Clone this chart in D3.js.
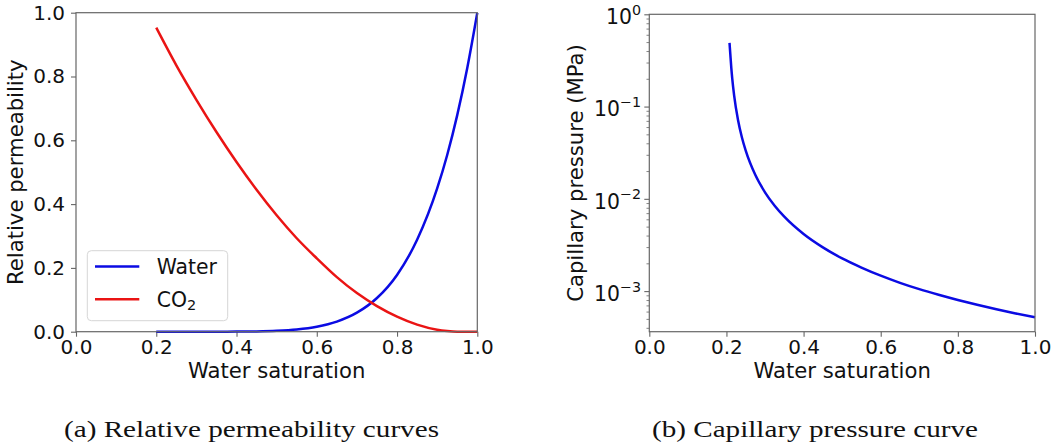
<!DOCTYPE html>
<html><head><meta charset="utf-8">
<script src="https://cdn.jsdelivr.net/npm/d3@7"></script>
<style>
body{margin:0;background:#fff}
svg text{font-family:"DejaVu Sans",sans-serif;fill:#111}
</style>
</head><body>
<svg id="c" width="1053" height="445"></svg>
<script>
// ---- data ----
const swKr = [0.20,0.25,0.30,0.35,0.40,0.45,0.50,0.55,0.60,0.65,0.70,0.75,0.80,0.85,0.90,0.925,0.95,0.975,1.00];
const krWater = [0,0,0,0.00004,0.00024,0.0009,0.0028,0.0070,0.0156,0.0317,0.0596,0.1056,0.178,0.288,0.449,0.554,0.679,0.827,1.0];
const krCO2 = [0.953,0.835,0.727,0.626,0.532,0.445,0.365,0.293,0.230,0.171,0.121,0.080,0.047,0.022,0.006,0.002,0,0,0];
const swPc = [0.208,0.21,0.2125,0.215,0.22,0.23,0.24,0.25,0.275,0.30,0.325,0.35,0.40,0.45,0.50,0.55,0.60,0.65,0.70,0.75,0.80,0.85,0.90,0.95,1.00];
const pc = [0.49,0.372,0.266,0.2025,0.1316,0.0716,0.0465,0.0333,0.0181,0.01177,0.00842,0.00641,0.00416,0.00298,0.00226,0.00180,0.00147,0.00123,0.00105,0.000912,0.000801,0.000710,0.000635,0.000573,0.00052];
const xTicks = [0,0.2,0.4,0.6,0.8,1.0];
const yTicksKr = [0,0.2,0.4,0.6,0.8,1.0];
const yTicksPc = [1,0.1,0.01,0.001];
const yTickExp = ["0","\u22121","\u22122","\u22123"];
const legendLabels = ["Water","CO"];
const seriesColors = ["#0b0be3","#ea1414"];
const xLabel = "Water saturation";
const yLabelKr = "Relative permeability";
const yLabelPc = "Capillary pressure (MPa)";
const captions = ["(a) Relative permeability curves","(b) Capillary pressure curve"];

const svg = d3.select("#c");
const spine = "#666";
const fmt = d3.format(".1f");
const titleSize = 21.2;

function styleAxis(g){
  g.select(".domain").remove();
  g.selectAll(".tick line").attr("stroke",spine).attr("stroke-width",1.1);
  g.selectAll(".tick text").attr("font-size",20).attr("fill","#111");
}
function frame(x,y){
  const [x0,x1]=x.range(), [y0,y1]=y.range();
  svg.append("rect").attr("x",x0).attr("y",y1).attr("width",x1-x0).attr("height",y0-y1)
    .attr("fill","none").attr("stroke",spine).attr("stroke-width",1.2);
}

// ---- panel (a) ----
const xa = d3.scaleLinear([0,1],[76,477.3]);
const ya = d3.scaleLinear([0,1],[331.7,12.7]);
svg.append("g").attr("transform",`translate(0,${ya.range()[0]})`)
  .call(d3.axisBottom(xa).tickValues(xTicks).tickFormat(fmt).tickSize(5).tickPadding(3.5)).call(styleAxis);
svg.append("g").attr("transform",`translate(${xa.range()[0]},0)`)
  .call(d3.axisLeft(ya).tickValues(yTicksKr).tickFormat(fmt).tickSize(5).tickPadding(6)).call(styleAxis);

const lineA = d3.line().curve(d3.curveMonotoneX);
svg.append("path").attr("d",lineA(swKr.map((s,i)=>[xa(s),ya(krWater[i])])))
  .attr("fill","none").attr("stroke",seriesColors[0]).attr("stroke-width",2.5);
svg.append("path").attr("d",lineA(swKr.map((s,i)=>[xa(s),ya(krCO2[i])])))
  .attr("fill","none").attr("stroke",seriesColors[1]).attr("stroke-width",2.5);
frame(xa,ya);

svg.append("text").attr("x",(xa.range()[0]+xa.range()[1])/2).attr("y",377.5)
  .attr("text-anchor","middle").attr("font-size",titleSize).text(xLabel);
svg.append("text").attr("transform",`translate(23,${(ya.range()[0]+ya.range()[1])/2}) rotate(-90)`)
  .attr("text-anchor","middle").attr("font-size",titleSize).text(yLabelKr);

// legend
const lg = svg.append("g");
lg.append("rect").attr("x",87.3).attr("y",250.7).attr("width",140.4).attr("height",70).attr("rx",4)
  .attr("fill","#fff").attr("stroke","#d6d6d6").attr("stroke-width",1);
[266.5,299.3].forEach((yy,i)=>{
  lg.append("line").attr("x1",95).attr("x2",139.3).attr("y1",yy).attr("y2",yy)
    .attr("stroke",seriesColors[i]).attr("stroke-width",2.5);
});
lg.append("text").attr("x",156.7).attr("y",274).attr("font-size",20.4).text(legendLabels[0]);
const co = lg.append("text").attr("x",156.7).attr("y",306.5).attr("font-size",20.4);
co.append("tspan").text(legendLabels[1]);
co.append("tspan").attr("font-size",14.5).attr("dy",3.5).text("2");

// ---- panel (b) ----
const xb = d3.scaleLinear([0,1],[649.3,1035]);
const yb = d3.scaleLog([Math.pow(10,-3.44),1],[331.7,14.3]);
svg.append("g").attr("transform",`translate(0,${yb.range()[0]})`)
  .call(d3.axisBottom(xb).tickValues(xTicks).tickFormat(fmt).tickSize(5).tickPadding(3.5)).call(styleAxis);
const minor = [];
[-4,-3,-2,-1].forEach(e=>{for(let m=2;m<=9;m++){const v=m*Math.pow(10,e); if(v>=yb.domain()[0]&&v<=1) minor.push(v);}});
svg.append("g").attr("transform",`translate(${xb.range()[0]},0)`)
  .call(d3.axisLeft(yb).tickValues(minor).tickFormat("").tickSize(2.8)).call(styleAxis)
  .selectAll(".tick line").attr("stroke-width",0.8);
const gyb = svg.append("g").attr("transform",`translate(${xb.range()[0]},0)`)
  .call(d3.axisLeft(yb).tickValues(yTicksPc).tickFormat("").tickSize(5)).call(styleAxis);
gyb.selectAll(".tick").each(function(d,i){
  const t = d3.select(this).append("text").attr("x",-8.3).attr("y",9.4)
    .attr("text-anchor","end").attr("font-size",20.4).attr("fill","#111");
  t.append("tspan").text("10");
  t.append("tspan").attr("font-size",14.3).attr("dy",-9.4).text(yTickExp[i]);
});
svg.append("path").attr("d",lineA(swPc.map((s,i)=>[xb(s),yb(pc[i])])))
  .attr("fill","none").attr("stroke",seriesColors[0]).attr("stroke-width",2.5);
frame(xb,yb);

svg.append("text").attr("x",(xb.range()[0]+xb.range()[1])/2).attr("y",378.3)
  .attr("text-anchor","middle").attr("font-size",titleSize).text(xLabel);
svg.append("text").attr("transform",`translate(582.5,${(yb.range()[0]+yb.range()[1])/2}) rotate(-90)`)
  .attr("text-anchor","middle").attr("font-size",titleSize).text(yLabelPc);

// captions
[[64,375],[652,326]].forEach((p,i)=>{
  svg.append("text").attr("x",p[0]).attr("y",437).attr("font-size",23)
    .attr("textLength",p[1]).attr("lengthAdjust","spacingAndGlyphs")
    .style("font-family","'Liberation Serif',serif").text(captions[i]);
});
</script>
</body></html>
